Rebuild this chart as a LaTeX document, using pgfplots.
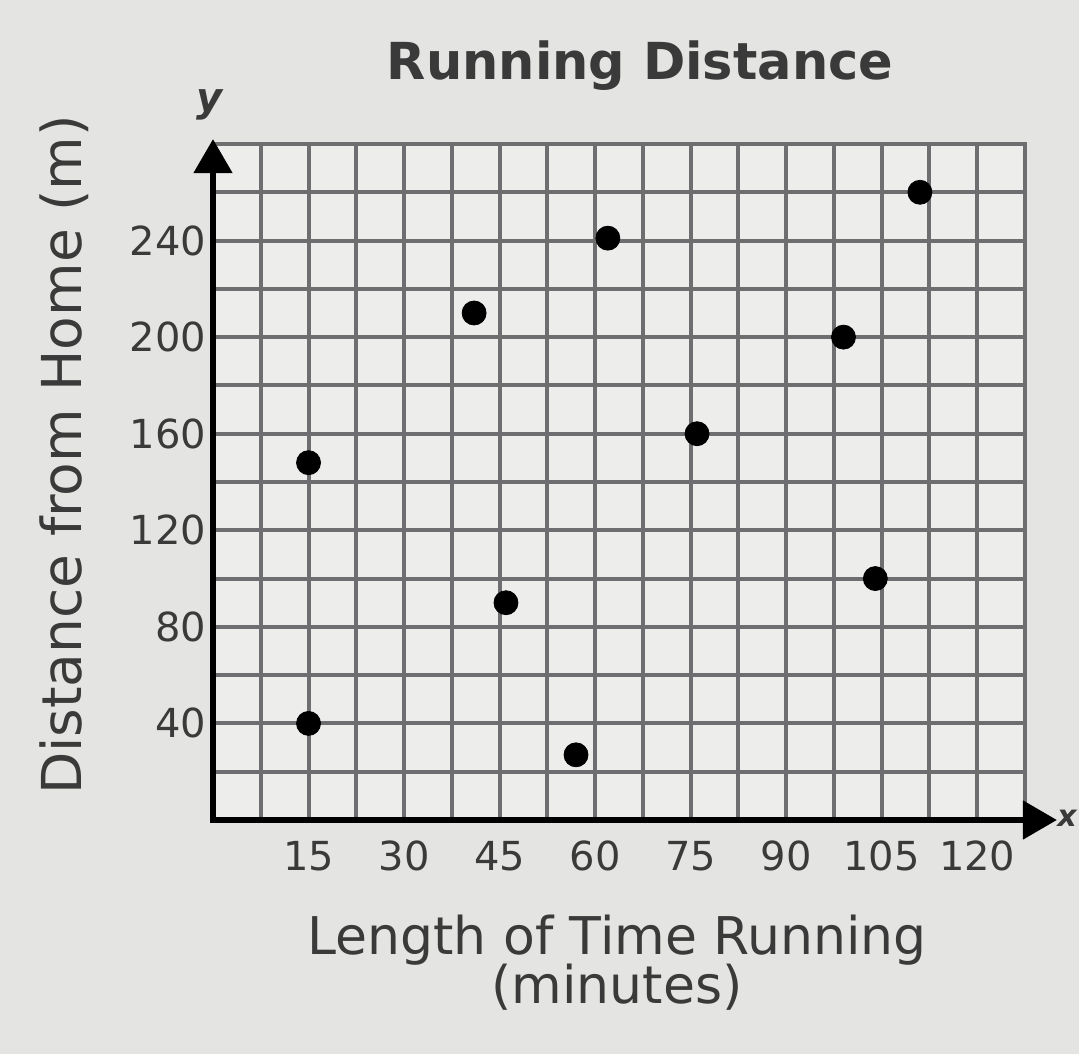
\documentclass[border=0pt]{standalone}
\usepackage{fontspec}
\setmainfont{DejaVu Sans}
\usepackage{pgfplots}
\pgfplotsset{compat=1.18}
\usetikzlibrary{arrows.meta}
\definecolor{bg}{HTML}{E4E4E2}
\definecolor{inner}{HTML}{EDEDEC}
\definecolor{gridc}{HTML}{6E6E70}
\definecolor{txt}{HTML}{3A3A3A}
\begin{document}
\begin{tikzpicture}[x=0.5pt,y=0.5pt]
\fill[bg] (0,0) rectangle (1079,1054);
\useasboundingbox (0,0) rectangle (1079,1054);
\begin{axis}[
  at={(106.5pt,117pt)}, anchor=south west,
  scale only axis, width=406pt, height=338pt,
  xmin=0, xmax=127.5, ymin=0, ymax=280,
  axis background/.style={fill=inner},
  axis line style={draw=gridc, line width=2pt},
  xtick={15,30,...,120}, minor xtick={7.5,22.5,...,127.5},
  ytick={40,80,...,240}, minor ytick={20,60,...,260},
  grid=both,
  grid style={gridc, line width=2pt},
  minor grid style={gridc, line width=2pt},
  major tick length=0pt, minor tick length=0pt,
  tick label style={font=\fontsize{20}{20}\selectfont, text=txt},
  xticklabel style={yshift=-7pt},
  /pgf/number format/assume math mode=true,
  clip=false,
]
\addplot[only marks, mark=*, mark size=6pt, black] coordinates {
  (15,40) (15,148) (41,210) (46,90) (57,27) (62,241) (76,160) (99,200) (104,100) (111,260)
};
\draw[black, line width=2.6pt, {Triangle[length=17pt,width=19pt]}-{Triangle[length=17pt,width=19pt]}]
  (axis cs:0,282) -- (axis cs:0,0) -- (axis cs:132.5,0);
\end{axis}
\node[font=\bfseries\fontsize{25.5}{25.5}\selectfont, text=txt] at (640,988) {Running Distance};
\node[font=\bfseries\itshape\fontsize{20}{20}\selectfont, text=txt] at (210,949) {y};
\node[font=\fontsize{26}{26}\selectfont, text=txt] at (617,114) {Length of Time Running};
\node[font=\fontsize{26}{26}\selectfont, text=txt] at (617,67) {(minutes)};
\node[font=\fontsize{27.5}{27.5}\selectfont, text=txt, rotate=90] at (64,599) {Distance from Home (m)};
\node[font=\bfseries\itshape\fontsize{15}{15}\selectfont, text=txt, anchor=east, inner sep=1pt] at (1079,236) {x};
\end{tikzpicture}
\end{document}
